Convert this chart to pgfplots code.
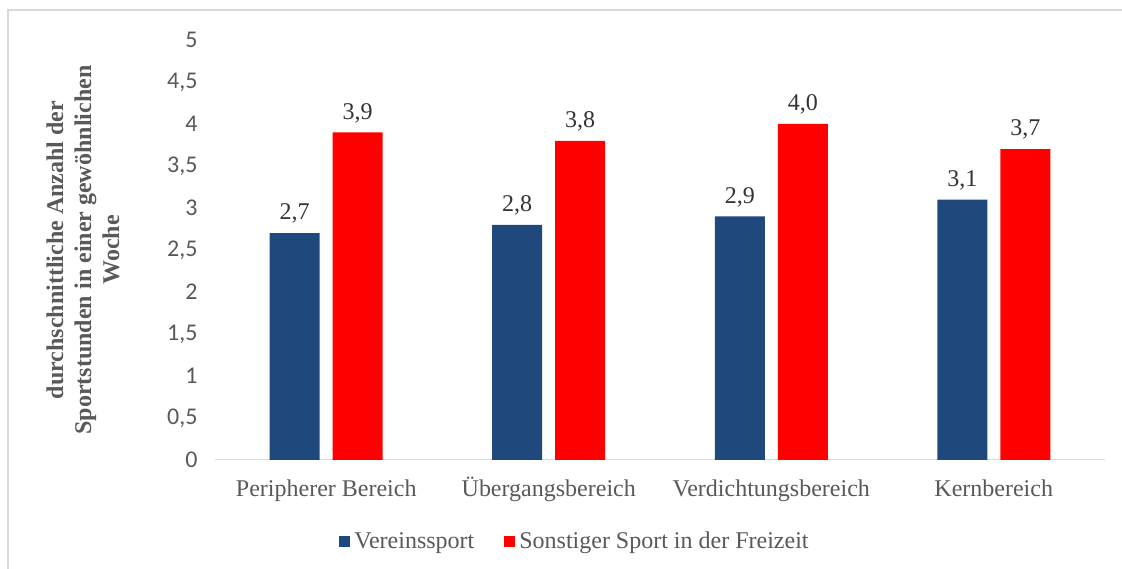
\documentclass[border=0pt]{standalone}
\usepackage{fontspec}
\setmainfont{Liberation Serif}
\newfontfamily\carlito{Carlito}
\usepackage{pgfplots}
\pgfplotsset{compat=1.18}
\definecolor{vblue}{HTML}{1F497D}
\definecolor{sred}{HTML}{FF0000}
\definecolor{txtgrey}{HTML}{595959}
\definecolor{axgrey}{HTML}{D9D9D9}
\begin{document}
\begin{tikzpicture}
\useasboundingbox (-215pt,-109pt) rectangle (907pt,460pt);
\draw[axgrey, line width=1.2pt] (-207pt,-115pt) rectangle (915pt,450pt);
\begin{axis}[
  at={(0pt,0pt)}, anchor=south west,
  scale only axis, width=890pt, height=420pt,
  ybar=13pt, bar width=50pt,
  xmin=-0.5, xmax=3.5, ymin=0, ymax=5,
  xtick=data,
  xticklabels={Peripherer Bereich, Übergangsbereich, Verdichtungsbereich, Kernbereich},
  ytick={0,0.5,...,5},
  axis x line*=bottom, axis y line*=left,
  x axis line style={axgrey, line width=1pt, -},
  y axis line style={draw=none},
  major tick length=0pt,
  xticklabel style={font=\fontsize{24}{28}\selectfont, text=txtgrey, anchor=base, yshift=-37pt},
  yticklabel style={font=\carlito\fontsize{24}{28}\selectfont, text=txtgrey, xshift=-14pt},
  /pgf/number format/.cd, use comma, fixed, fixed zerofill=false, assume math mode=true,
  /pgfplots/.cd,
  yticklabel={\pgfmathprintnumber{\tick}},
  ylabel={durchschnittliche Anzahl der\\Sportstunden in einer gewöhnlichen\\Woche},
  every axis y label/.style={at={(axis description cs:-0.1483,0.5)}, rotate=90, anchor=center,
    align=center, font=\bfseries\fontsize{24}{28}\selectfont, text=txtgrey},
  nodes near coords={\pgfmathprintnumber[fixed, fixed zerofill, precision=1, use comma]{\pgfplotspointmeta}},
  every node near coord/.append style={font=\fontsize{24}{28}\selectfont, text=black!80, yshift=6pt},
  legend style={at={(0.4045,-0.193)}, anchor=center, draw=none, legend columns=2,
    font=\fontsize{24}{28}\selectfont, text=txtgrey,
    /tikz/every odd column/.append style={column sep=2pt},
    /tikz/every even column/.append style={column sep=28pt}},
  legend image code/.code={\fill[#1] (0pt,-5.5pt) rectangle (11pt,5.5pt);},
  clip=false,
]
\addplot[fill=vblue, draw=none] coordinates {(0,2.7) (1,2.8) (2,2.9) (3,3.1)};
\addplot[fill=sred, draw=none] coordinates {(0,3.9) (1,3.8) (2,4.0) (3,3.7)};
\legend{Vereinssport, Sonstiger Sport in der Freizeit}
\end{axis}
\end{tikzpicture}
\end{document}
